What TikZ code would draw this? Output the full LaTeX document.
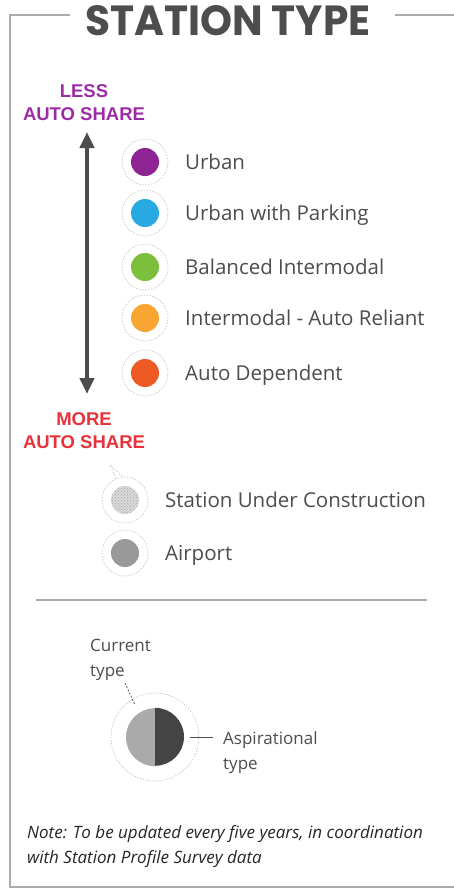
\documentclass[tikz,border=0pt]{standalone}
\usepackage{fontspec}
\setmainfont{Open Sans}
\newfontfamily\titlefont{Poppins}
\newfontfamily\boldsans{Liberation Sans}
\usetikzlibrary{arrows.meta,patterns}
\definecolor{framecol}{HTML}{ABABAB}
\definecolor{txt}{HTML}{4D4D4D}
\definecolor{cpurple}{HTML}{8E2494}
\definecolor{cblue}{HTML}{29A9E1}
\definecolor{cgreen}{HTML}{7CBF3C}
\definecolor{corange}{HTML}{F8A532}
\definecolor{cred}{HTML}{EE5A24}
\definecolor{lesscol}{HTML}{9C2CA3}
\definecolor{morecol}{HTML}{E8323A}
\definecolor{airgray}{HTML}{999999}
\definecolor{lightsplit}{HTML}{AAAAAA}
\definecolor{darksplit}{HTML}{444444}
\begin{document}
\begin{tikzpicture}[x=1pt,y=-1pt,
  halo/.style={circle, draw=black!25, dashed, dash pattern=on 1.5pt off 1.5pt, line width=0.6pt, minimum size=46pt, inner sep=0pt},
  dot/.style={circle, minimum size=28pt, inner sep=0pt},
  lbl/.style={anchor=base west, inner sep=0pt, text=txt, font=\fontsize{20.5}{22}\selectfont},
  share/.style={anchor=base, inner sep=0pt, font=\boldsans\bfseries\fontsize{18.5}{20}\selectfont},
  small/.style={anchor=base west, inner sep=0pt, text=txt, font=\fontsize{17}{19}\selectfont},
  leader/.style={draw=txt, line width=0.7pt}
]
\useasboundingbox (0,0) rectangle (454,889);
\fill[white] (0,0) rectangle (454,889);
% frame
\draw[framecol, line width=2pt] (70,15) -- (10,15) -- (10,887) -- (454,887);
\draw[framecol, line width=2pt] (395,15) -- (454,15);
\node[anchor=base, text=txt, inner sep=0pt, font=\titlefont\bfseries\fontsize{41}{44}\selectfont] (title) at (228,35) {\resizebox{285pt}{30pt}{STATION TYPE}};
% share labels
\node[share, text=lesscol] (less1) at (84,97) {LESS};
\node[share, text=lesscol] (less2) at (84,120) {AUTO SHARE};
\node[share, text=morecol] (more1) at (84,425) {MORE};
\node[share, text=morecol] (more2) at (84,448) {AUTO SHARE};
\coordinate (atop) at (87,132);
\coordinate (abot) at (87,394);
\draw[txt, line width=4pt, {Triangle[length=16pt,width=14pt]}-{Triangle[length=16pt,width=14pt]}] (atop) -- (abot);
% station types
\foreach \y/\c/\t/\n in {162/cpurple/Urban/a, 213/cblue/Urban with Parking/b, 267/cgreen/Balanced Intermodal/c, 318/corange/Intermodal - Auto Reliant/d, 373/cred/Auto Dependent/e}{
  \node[halo] (h\n) at (145,\y) {};
  \node[dot, fill=\c] (d\n) at (145,\y) {};
  \node[lbl] (l\n) at (185,\y+7) {\t};
}
% under construction
\node[halo] (hu) at (125,500) {};
\draw[black!25, dashed, dash pattern=on 1.5pt off 1.5pt, line width=0.6pt] (hu.112) -- (110,465) -- (hu.95);
\node[dot, fill=black!15] (du) at (125,500) {};
\fill[pattern=crosshatch dots, pattern color=black!35] (du.center) circle[radius=14pt];
\node[lbl] (lu) at (165,507) {Station Under Construction};
% airport
\node[halo] (ha) at (125,553) {};
\node[dot, fill=airgray] (da) at (125,553) {};
\node[lbl] (la) at (165,560) {Airport};
% separator
\coordinate (s1) at (36,600);
\coordinate (s2) at (427,600);
\draw[framecol, line width=2pt] (s1) -- (s2);
% split circle
\node[halo, minimum size=88pt] (sh) at (155,737) {};
\node[circle, minimum size=58pt, inner sep=0pt] (sc) at (155,737) {};
\fill[lightsplit] (sc.south) arc[start angle=270, end angle=90, radius=29pt] -- cycle;
\fill[darksplit] (sc.north) arc[start angle=90, end angle=-90, radius=29pt] -- cycle;
\node[small] (cur1) at (90,651) {Current};
\node[small] (cur2) at (90,676) {type};
\coordinate (c1) at (125,683);
\coordinate (c2) at (135,705);
\draw[leader, dashed, dash pattern=on 2pt off 1.5pt] (c1) -- (c2);
\coordinate (a1) at (190,737);
\coordinate (a2) at (213,737);
\draw[leader] (a1) -- (a2);
\node[small] (asp1) at (223,744) {Aspirational};
\node[small] (asp2) at (223,769) {type};
% note
\node[anchor=base west, inner sep=0pt, text=black!85, font=\itshape\fontsize{17}{19}\selectfont] (note1) at (27,838) {Note: To be updated every five years, in coordination};
\node[anchor=base west, inner sep=0pt, text=black!85, font=\itshape\fontsize{17}{19}\selectfont] (note2) at (27,863) {with Station Profile Survey data};
\end{tikzpicture}
\end{document}
